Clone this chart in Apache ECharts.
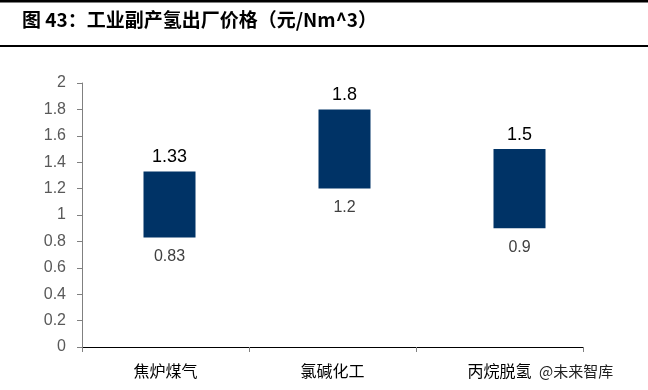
<!DOCTYPE html>
<html><head><meta charset="utf-8">
<script src="https://cdn.jsdelivr.net/npm/echarts@6/dist/echarts.min.js"></script>
<style>html,body{margin:0;padding:0;background:#fff}#c{width:648px;height:390px}</style>
</head><body><div id="c"></div>
<script>
var title = '图 43：工业副产氢出厂价格（元/Nm^3）';
var categories = ['焦炉煤气', '氯碱化工', '丙烷脱氢'];
var lows = [0.83, 1.2, 0.9];
var highs = [1.33, 1.8, 1.5];
var yTicks = { min: 0, max: 2, interval: 0.2 };

var spans = highs.map(function (h, i) { return +(h - lows[i]).toFixed(2); });
var chart = echarts.init(document.getElementById('c'), null, { renderer: 'canvas' });
var font = '"Liberation Sans", Arial, sans-serif';
chart.setOption({
  animation: false,
  backgroundColor: '#fff',
  graphic: [
    { type: 'rect', shape: { x: 0, y: 0, width: 648, height: 2.5 }, style: { fill: '#000' } },
    { type: 'rect', shape: { x: 0, y: 45, width: 648, height: 2 }, style: { fill: '#000' } },
    { type: 'text', left: 22, top: 10, style: { text: title, fill: '#000', font: 'bold 19px "Noto Sans CJK SC", sans-serif' } },
    { type: 'text', left: 538, top: 363, z: 100, style: { text: '@未来智库', fill: '#222', stroke: '#fff', lineWidth: 2, font: '15px "Noto Sans CJK SC", sans-serif' } }
  ],
  grid: [
    { left: 82, top: 83, width: 501, height: 264 },
    { left: 82, top: 83, width: 525, height: 264 }
  ],
  xAxis: [
    {
      type: 'category', gridIndex: 0, data: categories,
      axisLine: { lineStyle: { color: '#000', width: 1 } },
      axisTick: { show: true, length: 5, lineStyle: { color: '#808080' } },
      axisLabel: { color: '#000', fontSize: 16, margin: 16, fontFamily: '"Noto Sans CJK SC", sans-serif' }
    },
    { type: 'category', gridIndex: 1, data: categories, show: false }
  ],
  yAxis: [
    {
      type: 'value', gridIndex: 0, min: yTicks.min, max: yTicks.max, interval: yTicks.interval,
      axisLine: { show: true, lineStyle: { color: '#808080' } },
      axisTick: { show: true, length: 5, lineStyle: { color: '#808080' } },
      splitLine: { show: false },
      axisLabel: { color: '#595959', fontSize: 16, margin: 16, fontFamily: font }
    },
    { type: 'value', gridIndex: 1, min: yTicks.min, max: yTicks.max, interval: yTicks.interval, show: false, splitLine: { show: false } }
  ],
  series: [
    {
      type: 'bar', xAxisIndex: 1, yAxisIndex: 1, stack: 'r', data: lows, barWidth: 52,
      itemStyle: { color: 'rgba(0,0,0,0)' },
      label: { show: true, position: 'insideTop', distance: 11, color: '#404040', fontSize: 16, fontFamily: font,
        formatter: function (p) { return String(lows[p.dataIndex]); } }
    },
    {
      type: 'bar', xAxisIndex: 1, yAxisIndex: 1, stack: 'r', data: spans, barWidth: 52,
      itemStyle: { color: '#003366' },
      label: { show: true, position: 'top', distance: 5, color: '#000', fontSize: 18, fontFamily: font,
        formatter: function (p) { return String(highs[p.dataIndex]); } }
    }
  ]
});
</script></body></html>
